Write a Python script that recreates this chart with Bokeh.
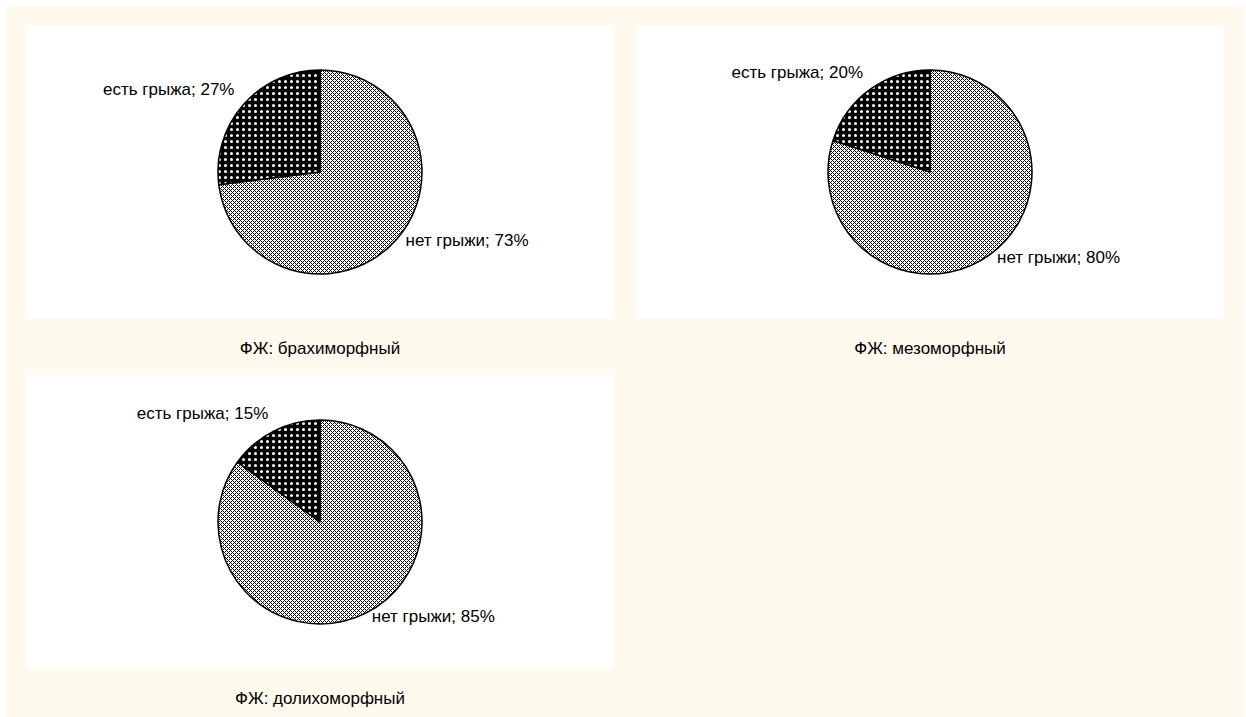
import math
from bokeh.plotting import figure
from bokeh.core.properties import value
from bokeh.embed import file_html
from bokeh.resources import INLINE

# ---- data ----
groups = ["ФЖ: брахиморфный", "ФЖ: мезоморфный", "ФЖ: долихоморфный"]
categories = ["нет грыжи", "есть грыжа"]
no_hernia = [73, 80, 85]
hernia = [27, 20, 15]

# ---- layout (page pixels, y measured from top) ----
W, H = 1246, 717
CREAM = "#FFF9EE"
FONT = "Liberation Sans"
FS = "17px"
panels = [(26, 25, 613, 318), (636, 25, 1223, 318), (26, 375, 613, 668)]
R = 102

p = figure(width=W, height=H, x_range=(0, W), y_range=(0, H),
           min_border=0, toolbar_location=None, output_backend="svg",
           border_fill_color="white", background_fill_color="white",
           outline_line_color=None)
p.axis.visible = False
p.grid.visible = False

def fy(y):
    return H - y

# background
p.quad(left=[6], right=[1243], top=[fy(5)], bottom=[fy(717)],
       fill_color=CREAM, line_color=None)
p.quad(left=[b[0] for b in panels], right=[b[2] for b in panels],
       top=[fy(b[1]) for b in panels], bottom=[fy(b[3]) for b in panels],
       fill_color="white", line_color=None)

light = dict(fill_color="white", hatch_pattern="diagonal_cross", hatch_color="black",
             hatch_scale=4, hatch_weight=1)
dark = dict(fill_color="black", hatch_pattern="dot", hatch_color="white",
            hatch_scale=6, hatch_weight=2.5)

for i, g in enumerate(groups):
    x0, y0, x1, y1 = panels[i]
    cx = (x0 + x1) / 2
    cy = fy((y0 + y1) / 2)
    vals = [no_hernia[i], hernia[i]]
    total = sum(vals)
    start = math.pi / 2
    for j, (cat, v) in enumerate(zip(categories, vals)):
        sweep = 2 * math.pi * v / total
        end = start - sweep
        style = light if j == 0 else dark
        p.wedge(x=[cx], y=[cy], radius=R, start_angle=[start], end_angle=[end],
                direction="clock", line_color="black", line_width=1.5, **style)
        mid = (start + end) / 2
        lx = cx + (R + 12) * math.cos(mid)
        ly = cy + (R + 12) * math.sin(mid)
        align = "left" if math.cos(mid) >= 0 else "right"
        p.text(x=[lx], y=[ly], text=[f"{cat}; {v}%"], text_align=align,
               text_baseline="middle", text_font=value(FONT), y_offset=-7,
               text_font_size=FS, text_color="black")
        start = end
    p.text(x=[cx], y=[fy(y1 + 30)], text=[g], text_align="center",
           text_baseline="middle", text_font=value(FONT),
           text_font_size=FS, text_color="black")

open("out.html", "w").write(file_html(p, INLINE))
